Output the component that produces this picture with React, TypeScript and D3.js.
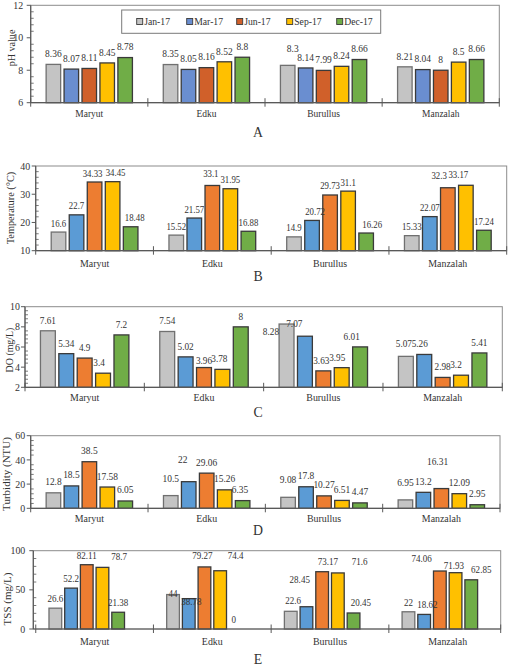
import React from 'react';
import * as d3 from 'd3';

const lakes = ['Maryut', 'Edku', 'Burullus', 'Manzalah'];
const months = ['Jan-17', 'Mar-17', 'Jun-17', 'Sep-17', 'Dec-17'];

// rows = months, columns = lakes
const phValues = [
  [8.36, 8.35, 8.3, 8.21],
  [8.07, 8.05, 8.14, 8.04],
  [8.11, 8.16, 7.99, 8],
  [8.45, 8.52, 8.24, 8.5],
  [8.78, 8.8, 8.66, 8.66],
];
const tempValues = [
  [16.6, 15.52, 14.9, 15.33],
  [22.7, 21.57, 20.72, 22.07],
  [34.33, 33.1, 29.73, 32.3],
  [34.45, 31.95, 31.1, 33.17],
  [18.48, 16.88, 16.26, 17.24],
];
const doValues = [
  [7.61, 7.54, 8.28, 5.07],
  [5.34, 5.02, 7.07, 5.26],
  [4.9, 3.96, 3.63, 2.98],
  [3.4, 3.78, 3.95, 3.2],
  [7.2, 8, 6.01, 5.41],
];
const turbidityValues = [
  [12.8, 10.5, 9.08, 6.95],
  [18.5, 22, 17.8, 13.2],
  [38.5, 29.06, 10.27, 16.31],
  [17.58, 15.26, 6.51, 12.09],
  [6.05, 6.35, 4.47, 2.95],
];
const tssValues = [
  [26.6, 44, 22.6, 22],
  [52.2, 38.78, 28.45, 18.62],
  [82.11, 79.27, 73.17, 74.06],
  [78.7, 74.4, 71.6, 71.93],
  [21.38, 0, 20.45, 62.85],
];

const phTicks = [6, 8, 10, 12];
const tempTicks = [10, 20, 30, 40];
const doTicks = [2, 4, 6, 8, 10];
const turbidityTicks = [0, 20, 40, 60];
const tssTicks = [0, 50, 100];

const paletteA = ['#C4C4C4', '#6A8ED0', '#D0602A', '#FFC000', '#70AD47'];
const paletteB = ['#C4C4C4', '#5B9BD5', '#ED7D31', '#FFC000', '#70AD47'];

// manual label nudges [dx, dy] keyed panel-month-lake
const nudges: Record<string, [number, number]> = {
  'A-0-2': [5, -6],
  'B-2-0': [-2, 0], 'B-3-0': [3, 0], 'B-4-0': [4, 0],
  'B-2-1': [-1.5, -3],
  'B-1-2': [3, 0], 'B-4-2': [6, 0],
  'B-2-3': [-8.7, -3.7], 'B-3-3': [-7.5, -1.3],
  'C-3-0': [-4, 0],
  'C-2-1': [0, 3], 'C-3-1': [-3, 0],
  'C-0-2': [-15.6, 17.5], 'C-1-2': [-10.6, -2.4], 'C-2-2': [-2, 0], 'C-3-2': [-4.5, 0], 'C-4-2': [-8.4, 0],
  'C-0-3': [-2, -2], 'C-1-3': [-4.5, 0], 'C-3-3': [-5, 0],
  'D-0-1': [0, -6], 'D-1-1': [-6, -10.7], 'D-4-1': [-2.6, 0],
  'D-0-2': [0, -7],
  'D-0-3': [0, -6], 'D-2-3': [-3.8, -16],
  'E-3-0': [16.6, -1.8],
  'E-0-1': [0, 8.7], 'E-1-1': [2.7, 12.8], 'E-2-1': [-2, -2.2], 'E-3-1': [15.4, -6], 'E-4-1': [-2, 0],
  'E-0-2': [2.3, -1.6], 'E-1-2': [-6.7, -17.7], 'E-2-2': [5.8, -0.3], 'E-3-2': [21.7, -1.5], 'E-4-2': [7.4, -0.6],
  'E-1-3': [3.3, -0.7], 'E-2-3': [-18.3, -3], 'E-3-3': [-1.7, 2], 'E-4-3': [10, -0.8],
};

const FONT = "Liberation Serif, Times New Roman, serif";
const TEXT = '#333333';

type PanelCfg = {
  id: string; values: number[][]; ticks: number[]; title: string;
  left: number; right: number; top: number; bottom: number; band?: [number, number];
  colors: string[]; valueSize: number; valueSx: number; gap: number;
  catY: number; catSize: number; catSx: number; letterY: number;
  titleX: number; titleY: number; titleSize: number; titleSx: number; tickGap: number;
  slots: number; outer: number; legend?: boolean;
};

const panels: PanelCfg[] = [
  { id: 'A', values: phValues, ticks: phTicks, title: 'pH value', left: 30.7, right: 499.3, top: 5.3, bottom: 102.7,
    colors: paletteA, valueSize: 11, valueSx: 0.86, gap: 7.2, catY: 117, catSize: 11, catSx: 0.86, letterY: 136.5,
    titleX: 14.5, titleY: 48, titleSize: 11, titleSx: 0.92, tickGap: 7.5, slots: 5, outer: 0.86, legend: true },
  { id: 'B', values: tempValues, ticks: tempTicks, title: 'Temperature (\u00B0C)', left: 35.7, right: 506.7, top: 166, bottom: 250.7,
    colors: paletteB, valueSize: 10, valueSx: 0.88, gap: 5.5, catY: 267, catSize: 11, catSx: 0.9, letterY: 280.7,
    titleX: 14, titleY: 208, titleSize: 11, titleSx: 0.94, tickGap: 5.5, slots: 5, outer: 0.86 },
  { id: 'C', values: doValues, ticks: doTicks, title: 'DO (mg/L)', left: 25, right: 502.3, top: 306.7, bottom: 387.3,
    colors: paletteB, valueSize: 11, valueSx: 0.84, gap: 7, catY: 401, catSize: 11, catSx: 0.9, letterY: 416.7,
    titleX: 12.5, titleY: 350, titleSize: 11, titleSx: 0.9, tickGap: 5, slots: 5, outer: 0.84 },
  { id: 'D', values: turbidityValues, ticks: turbidityTicks, title: 'Turbidity (NTU)', left: 30.7, right: 500, top: 435.7, bottom: 508.3,
    colors: paletteB, valueSize: 11, valueSx: 0.86, gap: 7.5, catY: 522, catSize: 11, catSx: 0.9, letterY: 535,
    titleX: 10, titleY: 474, titleSize: 11, titleSx: 1, tickGap: 5.5, slots: 5, outer: 0.86 },
  { id: 'E', values: tssValues, ticks: tssTicks, title: 'TSS (mg/L)', left: 33.3, right: 500.7, top: 550.7, bottom: 629,
    band: [35.75, 506.55],
    colors: paletteB, valueSize: 10.5, valueSx: 0.86, gap: 6, catY: 645, catSize: 11, catSx: 0.9, letterY: 663.5,
    titleX: 11, titleY: 599, titleSize: 11, titleSx: 1, tickGap: 8, slots: 6, outer: 0.843 },
];

function T(props: { x: number; y: number; size: number; sx?: number; rot?: number; anchor?: string; fill?: string; children: React.ReactNode }) {
  const { x, y, size, sx = 1, rot = 0, anchor = 'middle', fill = TEXT, children } = props;
  return (
    <text transform={`translate(${x},${y})${rot ? ` rotate(${rot})` : ''} scale(${sx},1)`}
      fontSize={size} textAnchor={anchor as any} fill={fill} style={{ fontFamily: FONT }}>{children}</text>
  );
}

function Panel({ cfg }: { cfg: PanelCfg }) {
  const y = d3.scaleLinear().domain([cfg.ticks[0], cfg.ticks[cfg.ticks.length - 1]]).range([cfg.bottom, cfg.top]);
  const x0 = d3.scaleBand<string>().domain(lakes).range(cfg.band ?? [cfg.left, cfg.right]).padding(0);
  const slotKeys = cfg.slots > months.length ? [...months, '_empty'] : months;
  const x1 = d3.scaleBand<string>().domain(slotKeys).range([0, x0.bandwidth()]).paddingInner(0.19).paddingOuter(cfg.outer);
  const base = y(cfg.ticks[0]);

  const minor: number[] = [];
  for (let i = 0; i < cfg.ticks.length - 1; i++) {
    const a = cfg.ticks[i], b = cfg.ticks[i + 1];
    for (let k = 1; k < 5; k++) minor.push(a + ((b - a) * k) / 5);
  }
  const bounds = lakes.map((l) => x0(l)!).concat([cfg.right]);

  return (
    <g>
      <rect x={cfg.left} y={cfg.top} width={cfg.right - cfg.left} height={cfg.bottom - cfg.top} fill="#fff" stroke="#8c8c8c" strokeWidth={1} />
      {cfg.values.map((row, m) =>
        row.map((v, li) => {
          const bx = x0(lakes[li])! + x1(months[m])!;
          const by = y(v);
          const h = base - by;
          if (h < 0.5) return null;
          return (
            <rect key={`b-${m}-${li}`} x={bx} y={by} width={x1.bandwidth()} height={h}
              fill={cfg.colors[m]} stroke={m === 0 ? '#707070' : '#3a3a3a'} strokeWidth={1.3} />
          );
        })
      )}
      <line x1={cfg.left} x2={cfg.left} y1={cfg.top} y2={cfg.bottom} stroke="#595959" strokeWidth={1.2} />
      <line x1={cfg.left} x2={cfg.right} y1={cfg.bottom} y2={cfg.bottom} stroke="#595959" strokeWidth={1.2} />
      {cfg.ticks.map((t) => (
        <g key={`t-${t}`}>
          <line x1={cfg.left - 4} x2={cfg.left} y1={y(t)} y2={y(t)} stroke="#595959" strokeWidth={1} />
          <T x={cfg.left - cfg.tickGap} y={y(t) + 3.6} size={11} sx={0.9} anchor="end">{String(t)}</T>
        </g>
      ))}
      {minor.map((t, i) => (
        <line key={`m-${i}`} x1={cfg.left} x2={cfg.left + 3} y1={y(t)} y2={y(t)} stroke="#595959" strokeWidth={0.8} />
      ))}
      {bounds.map((bx, i) => (
        <line key={`s-${i}`} x1={bx} x2={bx} y1={cfg.bottom - 4.5} y2={cfg.bottom + 4} stroke="#595959" strokeWidth={1} />
      ))}
      {cfg.values.map((row, m) =>
        row.map((v, li) => {
          const cx = x0(lakes[li])! + x1(months[m])! + x1.bandwidth() / 2;
          const nd = nudges[`${cfg.id}-${m}-${li}`] ?? [0, 0];
          return (
            <T key={`l-${m}-${li}`} x={cx + nd[0]} y={y(v) - cfg.gap + nd[1]} size={cfg.valueSize} sx={cfg.valueSx}>
              {String(v)}
            </T>
          );
        })
      )}
      {lakes.map((l) => (
        <T key={`c-${l}`} x={x0(l)! + x0.bandwidth() / 2} y={cfg.catY} size={cfg.catSize} sx={cfg.catSx}>{l}</T>
      ))}
      <T x={cfg.titleX} y={cfg.titleY} size={cfg.titleSize} sx={cfg.titleSx} rot={-90}>{cfg.title}</T>
      <T x={258} y={cfg.letterY} size={15} sx={0.92}>{cfg.id}</T>
      {cfg.legend && (
        <g>
          <rect x={121.7} y={10} width={259} height={23.3} fill="#fff" stroke="#7a7a7a" strokeWidth={1} />
          {months.map((mo, i) => {
            const lx = 136.7 + i * 50;
            return (
              <g key={`lg-${mo}`}>
                <rect x={lx} y={18.5} width={6} height={6} fill={cfg.colors[i]} stroke="#3a3a3a" strokeWidth={0.9} />
                <T x={lx + 7.5} y={25.3} size={11} sx={0.88} anchor="start">{mo}</T>
              </g>
            );
          })}
        </g>
      )}
    </g>
  );
}

export default function App() {
  return (
    <svg width={510} height={667} viewBox="0 0 510 667"
      style={{ position: 'absolute', left: 0, top: 0, background: '#fff' }}>
      <rect x={0} y={0} width={510} height={667} fill="#fff" />
      {panels.map((p) => <Panel key={p.id} cfg={p} />)}
    </svg>
  );
}
